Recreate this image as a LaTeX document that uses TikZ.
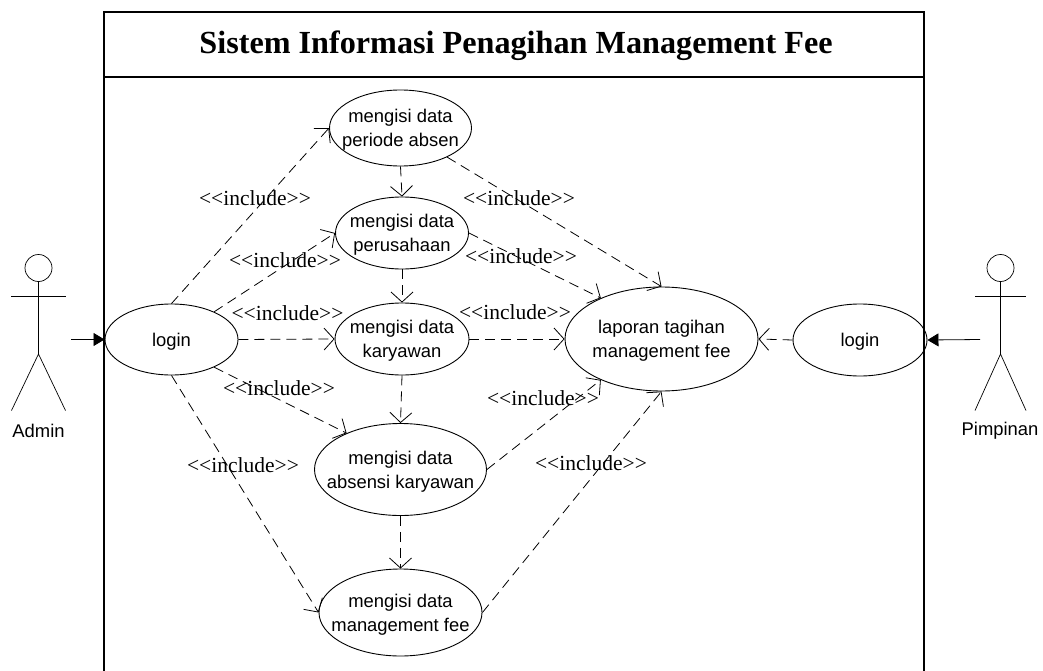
\documentclass[tikz,border=0pt]{standalone}
\usepackage{fontspec}
\setmainfont{Liberation Serif}
\newfontfamily\lsans{Liberation Sans}
\usetikzlibrary{shapes.geometric,arrows.meta}
\newcommand\uct[1]{\makebox[0pt]{\smash{\raisebox{-6.5pt}{\begin{tabular}{@{}c@{}}#1\end{tabular}}}}}
\newcommand\incl{<{}<include>{}>}
\tikzset{
 uc/.style={draw,ellipse,inner sep=0pt,line width=0.9pt,font=\lsans\fontsize{18.4}{24}\selectfont},
 inc/.style={draw,dashed,dash pattern=on 10pt off 6pt,line width=0.8pt,-{Straight Barb[length=10pt,width=22pt,line width=0.8pt]}},
 lbl/.style={inner sep=0pt,font=\fontsize{21.5}{24}\selectfont},
 assoc/.style={line width=0.8pt,-{Triangle[length=11pt,width=13pt]}},
 stick/.style={line width=0.7pt},
 actorname/.style={inner sep=0pt,font=\lsans\fontsize{18.4}{22}\selectfont},
 frameline/.style={line width=2pt}
}
\begin{document}
\begin{tikzpicture}[x=1pt,y=-1pt]
\useasboundingbox (0,0) rectangle (1043,671);
\fill[white] (0,0) rectangle (1043,671);
\coordinate (fbl) at (104,671); \coordinate (ftl) at (104,12); \coordinate (ftr) at (924,12); \coordinate (fbr) at (924,671);
\coordinate (tl) at (104,77); \coordinate (tr) at (924,77);
\draw[frameline] (fbl) -- (ftl) -- (ftr) -- (fbr);
\draw[frameline] (tl) -- (tr);
\node[inner sep=0pt,font=\bfseries\fontsize{32.2}{36}\selectfont] (title) at (516,45.5) {Sistem Informasi Penagihan Management Fee};
% use cases
\node[uc,minimum width=133pt,minimum height=71pt] (login) at (171.5,339.5) {\uct{login}};
\node[uc,minimum width=142pt,minimum height=76pt] (periode) at (400.5,128) {\uct{mengisi data\\periode absen}};
\node[uc,minimum width=133pt,minimum height=72pt] (perus) at (402,233) {\uct{mengisi data\\perusahaan}};
\node[uc,minimum width=134pt,minimum height=72pt] (kary) at (402,339) {\uct{mengisi data\\karyawan}};
\node[uc,minimum width=172pt,minimum height=92pt] (absen) at (400.5,469.5) {\uct{mengisi data\\absensi karyawan}};
\node[uc,minimum width=163pt,minimum height=87pt] (mfee) at (400.5,612.5) {\uct{mengisi data\\management fee}};
\node[uc,minimum width=193pt,minimum height=104pt] (lap) at (661.5,339) {\uct{laporan tagihan\\management fee}};
\node[uc,minimum width=134pt,minimum height=72pt] (login2) at (860,340) {\uct{login}};
% include connectors
\draw[inc] (login.north) -- (periode.west);
\draw[inc] (login.33) -- (perus.west);
\draw[inc] (login.east) -- (kary.west);
\draw[inc] (login.-33) -- (absen.146);
\draw[inc] (login.south) -- (mfee.west);
\draw[inc] (periode.south) -- (perus.north);
\draw[inc] (perus.south) -- (kary.north);
\draw[inc] (kary.south) -- (absen.north);
\draw[inc] (absen.south) -- (mfee.north);
\draw[inc] (periode.-32) -- (lap.north);
\draw[inc] (perus.east) -- (lap.146);
\draw[inc] (kary.east) -- (lap.west);
\draw[inc] (absen.east) -- (lap.214);
\draw[inc] (mfee.east) -- (lap.south);
\draw[inc] (login2.west) -- (lap.east);
% labels
\node[lbl] (l1) at (255,198) {\incl};
\node[lbl] (l2) at (285,260) {\incl};
\node[lbl] (l3) at (287.5,313) {\incl};
\node[lbl] (l4) at (279,388) {\incl};
\node[lbl] (l5) at (243,465) {\incl};
\node[lbl] (l6) at (519,198) {\incl};
\node[lbl] (l7) at (521,256) {\incl};
\node[lbl] (l8) at (515,312) {\incl};
\node[lbl] (l9) at (543,398) {\incl};
\node[lbl] (l10) at (591,463) {\incl};
% admin
\node[draw,circle,stick,minimum size=27pt,inner sep=0pt] (ahead) at (38.5,268) {};
\coordinate (aarmL) at (11,296.5); \coordinate (aarmR) at (65.5,296.5);
\coordinate (ahip) at (38.5,354); \coordinate (alegL) at (11.5,410.5); \coordinate (alegR) at (65.5,410.5);
\draw[stick] (ahead.south) -- (ahip);
\draw[stick] (aarmL) -- (aarmR);
\draw[stick] (alegL) -- (ahip) -- (alegR);
\node[actorname] (aname) at (38.5,431) {Admin};
\coordinate (afoot) at (71,339.5);
\draw[assoc] (afoot) -- (login.west);
% pimpinan
\node[draw,circle,stick,minimum size=27pt,inner sep=0pt] (phead) at (1000.5,268) {};
\coordinate (parmL) at (975,296.5); \coordinate (parmR) at (1026,296.5);
\coordinate (phip) at (1000.5,354); \coordinate (plegL) at (975,410.5); \coordinate (plegR) at (1026,410.5);
\draw[stick] (phead.south) -- (phip);
\draw[stick] (parmL) -- (parmR);
\draw[stick] (plegL) -- (phip) -- (plegR);
\node[actorname] (pname) at (1000,431) {Pimpinan};
\coordinate (pfoot) at (980,339.5);
\draw[assoc] (pfoot) -- (login2.east);
\end{tikzpicture}
\end{document}
